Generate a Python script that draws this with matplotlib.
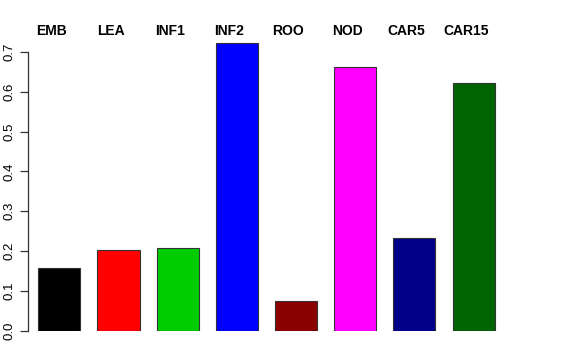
import matplotlib
matplotlib.use('Agg')
import matplotlib.pyplot as plt

labels = ['EMB', 'LEA', 'INF1', 'INF2', 'ROO', 'NOD', 'CAR5', 'CAR15']
values = [0.157, 0.204, 0.207, 0.723, 0.075, 0.663, 0.233, 0.622]
colors = ['#000000', '#ff0000', '#00cd00', '#0000ff', '#8b0000', '#ff00ff', '#00008b', '#006400']
yticks = [0.0, 0.1, 0.2, 0.3, 0.4, 0.5, 0.6, 0.7]

plt.rcParams['font.family'] = ['Liberation Sans', 'DejaVu Sans']

W, H = 576, 360
fig = plt.figure(figsize=(W / 100, H / 100), dpi=100)
# axes placed in pixel terms: left spine at x=28, y=0 at row 330.7
left, right = 28, 505
bottom, top = 330.7, 32.2
ax = fig.add_axes([left / W, (H - bottom) / H, (right - left) / W, (bottom - top) / H])

x = list(range(len(labels)))
ax.bar(x, values, width=0.71, color=colors, edgecolor='#333333', linewidth=0.8)

ax.set_xlim(-0.529, 7.53)
ax.set_ylim(0, 0.75)

for s in ['top', 'right', 'bottom']:
    ax.spines[s].set_visible(False)
ax.spines['left'].set_bounds(0, 0.7)
ax.spines['left'].set_linewidth(0.9)
ax.spines['left'].set_color('#333333')

ax.set_xticks([])
ax.set_yticks(yticks)
ax.set_yticklabels([f"{v:.1f}" for v in yticks], rotation=90, va='center', fontsize=9.5)
ax.tick_params(axis='y', length=6, width=0.9, color='#333333', pad=3)

# group names sit above the plot, nudged left of each bar
for i, lab in enumerate(labels):
    ax.text(i - 0.135, 0.752, lab, ha='center', va='center', fontsize=10,
            fontweight='bold', clip_on=False)

fig.savefig('out.png', dpi=100)
